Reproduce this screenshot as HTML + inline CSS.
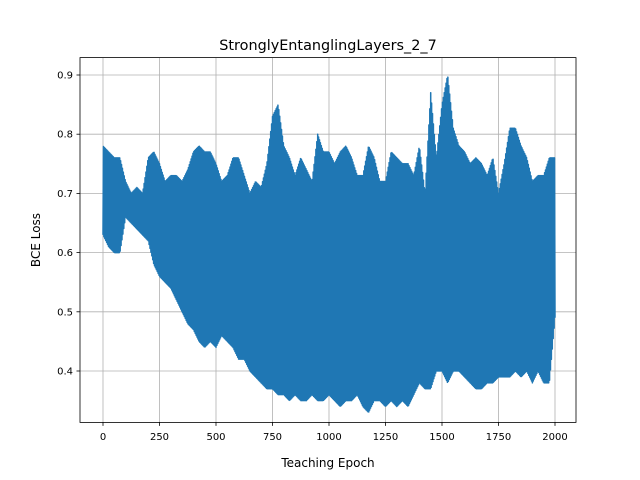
<!DOCTYPE html>
<html><head><meta charset="utf-8"><style>
body{margin:0;background:#fff;}
svg{display:block;font-family:"DejaVu Sans","Liberation Sans",sans-serif;}
</style></head><body>
<svg id="chart" width="640" height="480">
<rect x="0" y="0" width="640" height="480" fill="#fff"/>
<text x="328" y="50" font-size="14.4" text-anchor="middle">StronglyEntanglingLayers_2_7</text>
<g id="grid"></g>
<g id="series"></g>
<rect x="80" y="57.6" width="496" height="364.8" fill="none" stroke="#000" stroke-width="0.8"/>
<g id="ticks"></g>
<text x="328" y="467" font-size="12" text-anchor="middle">Teaching Epoch</text>
<text x="40" y="240" font-size="12" text-anchor="middle" transform="rotate(-90 40 240)">BCE Loss</text>
</svg>
<script>
const xTicks=[0,250,500,750,1000,1250,1500,1750,2000];
const yTicks=[0.4,0.5,0.6,0.7,0.8,0.9];
const envEpochs=[0,25,50,75,100,125,150,175,200,225,250,275,300,325,350,375,400,425,450,475,500,525,550,575,600,625,650,675,700,725,750,775,800,825,850,875,900,925,950,975,1000,1025,1050,1075,1100,1125,1150,1175,1200,1225,1250,1275,1300,1325,1350,1375,1400,1425,1450,1475,1500,1525,1550,1575,1600,1625,1650,1675,1700,1725,1750,1775,1800,1825,1850,1875,1900,1925,1950,1975,2000];
const upper=[.78,.77,.76,.76,.72,.70,.71,.70,.76,.77,.75,.72,.73,.73,.72,.74,.77,.78,.77,.77,.75,.72,.73,.76,.76,.73,.70,.72,.71,.75,.83,.85,.78,.76,.73,.76,.74,.72,.80,.77,.77,.75,.77,.78,.76,.73,.73,.78,.76,.72,.72,.77,.76,.75,.75,.73,.78,.70,.87,.76,.85,.90,.81,.78,.77,.75,.76,.75,.73,.76,.70,.75,.81,.81,.78,.76,.72,.73,.73,.76,.76];
const lower=[.63,.61,.60,.60,.66,.65,.64,.63,.62,.58,.56,.55,.54,.52,.50,.48,.47,.45,.44,.45,.44,.46,.45,.44,.42,.42,.40,.39,.38,.37,.37,.36,.36,.35,.36,.35,.35,.36,.35,.35,.36,.35,.34,.35,.35,.36,.34,.33,.35,.35,.34,.35,.34,.35,.34,.36,.38,.37,.37,.40,.40,.38,.40,.40,.39,.38,.37,.37,.38,.38,.39,.39,.39,.40,.39,.40,.38,.40,.38,.38,.49];
const NS="http://www.w3.org/2000/svg";
const x=e=>103+(e/2000)*452;
const y=v=>371-(v-0.4)*592;
const grid=document.getElementById('grid'),ticks=document.getElementById('ticks'),series=document.getElementById('series');
function mk(t,a,p){const el=document.createElementNS(NS,t);for(const k in a)el.setAttribute(k,a[k]);p.appendChild(el);return el;}
xTicks.forEach(t=>{
 const g=mk('line',{x1:x(t),x2:x(t),y1:57.6,y2:422.4,stroke:'#b0b0b0','stroke-width':0.8},grid);
 
 
 mk('line',{x1:x(t),x2:x(t),y1:422.4,y2:425.9,stroke:'#000','stroke-width':0.8},ticks);
 const tx=mk('text',{x:x(t),y:440,'font-size':10,'text-anchor':'middle'},ticks);
 tx.textContent=t;
 
 
});
yTicks.forEach(t=>{
 const g=mk('line',{x1:80,x2:576,y1:y(t),y2:y(t),stroke:'#b0b0b0','stroke-width':0.8},grid);
 
 
 mk('line',{x1:76.5,x2:80,y1:y(t),y2:y(t),stroke:'#000','stroke-width':0.8},ticks);
 const tx=mk('text',{x:73,y:y(t)+3.5,'font-size':10,'text-anchor':'end'},ticks);
 tx.textContent=t.toFixed(1);
 
 
});
function env(arr,e){const i=Math.min(Math.floor(e/25),envEpochs.length-2);const f=(e-envEpochs[i])/25;return arr[i]*(1-f)+arr[i+1]*f;}
let d='';
for(let e=0;e<=2000;e+=2){const v=(e/2)%2===0?env(lower,e):env(upper,e);d+=(e===0?'M':'L')+x(e).toFixed(2)+' '+y(v).toFixed(2);}
const p=mk('path',{d:d,fill:'none',stroke:'#1f77b4','stroke-width':1.5,'stroke-linejoin':'round'},series);


</script>
</body></html>
